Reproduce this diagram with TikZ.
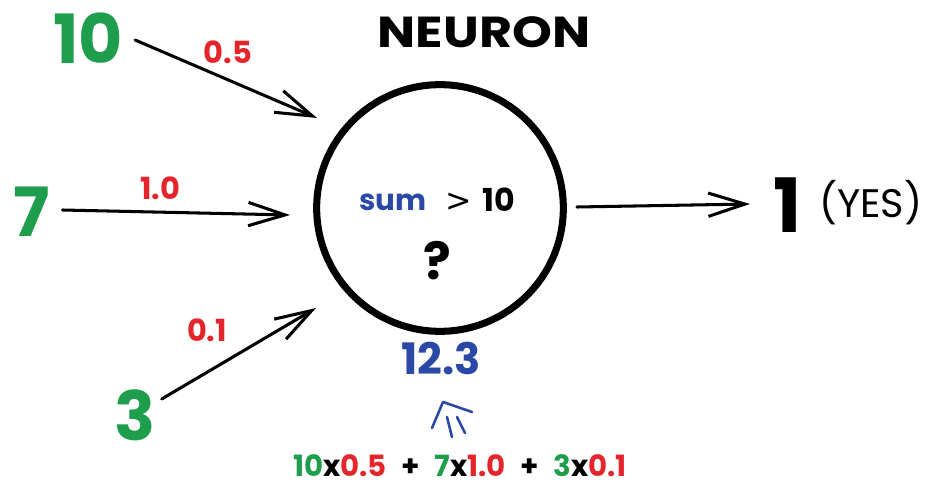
\documentclass[tikz,border=0pt]{standalone}
\usepackage{fontspec}
\setmainfont{Poppins}
\newfontfamily\symfont{DejaVu Sans}
\usetikzlibrary{arrows.meta}
\definecolor{grn}{HTML}{1E9E4C}
\definecolor{rd}{HTML}{E4252B}
\definecolor{blu}{HTML}{2A48A6}
\newcommand{\fs}[1]{\fontsize{#1}{#1}\selectfont}

\begin{document}
\begin{tikzpicture}[x=0.03cm,y=-0.03cm,
  inp/.style={text=grn,font=\fs{58}\bfseries},
  wt/.style={text=rd,font=\fs{26}\bfseries},
  arr/.style={line width=2.6pt,line cap=round,-{Straight Barb[length=1.1cm,width=0.7cm,line width=2.6pt]}}]
\useasboundingbox (0,0) rectangle (930,486);
\node[font=\fs{37}\bfseries,xscale=1.17] (title) at (484,32) {NEURON};
\node[draw,circle,line width=6pt,minimum size=7.4cm,inner sep=0pt] (nrn) at (440,208) {};
% inputs and weights
\node[inp] (in10) at (88,38) {10};
\node[inp] (in7) at (32,212) {7};
\node[inp] (in3) at (135,415) {3};
\node[wt] (w05) at (228,52) {0.5};
\node[wt] (w10) at (160,188) {1.0};
\node[wt] (w01) at (207,330) {0.1};
\coordinate (e10) at (317,118);
\coordinate (e7) at (290,215);
\coordinate (e3) at (316,308);
\draw[arr] (in10.east) ++(8,2) -- (e10);
\draw[arr] (in7.east) ++(8,-2) -- (e7);
\draw[arr] (in3.east) ++(2,-16) -- (e3);
% inside the neuron
\node[text=blu,font=\fs{25}\bfseries] (sum) at (393,202) {sum};
\node[font=\fs{27}\bfseries] (thr) at (480,200) {{\symfont\mdseries >}\,\,10};
\node[font=\fs{44}\bfseries] (q) at (437,261) {?};
% output
\node[font=\fs{64}\bfseries] (one) at (788,205) {1};
\node[font=\fs{34}, anchor=west] (yes) at (815,203) {(YES)};
\coordinate (eo) at (750,204);
\draw[arr] (nrn.east) ++(10,-1) -- (eo);
% weighted sum
\node[text=blu,font=\fs{37}\bfseries] (tot) at (441,358) {12.3};
\draw[blu,line width=2.2pt,line cap=round,line join=round]
  (432,428) -- (443,402) -- (472,412)
  (447,417) -- (452,437)
  (457,417) -- (465,433);
\node[font=\fs{25}\bfseries,inner sep=1pt] (calc) at (460,466) {\textcolor{grn}{10}x\textcolor{rd}{0.5}\enspace+\enspace\textcolor{grn}{7}x\textcolor{rd}{1.0}\enspace+\enspace\textcolor{grn}{3}x\textcolor{rd}{0.1}};
\end{tikzpicture}
\end{document}
